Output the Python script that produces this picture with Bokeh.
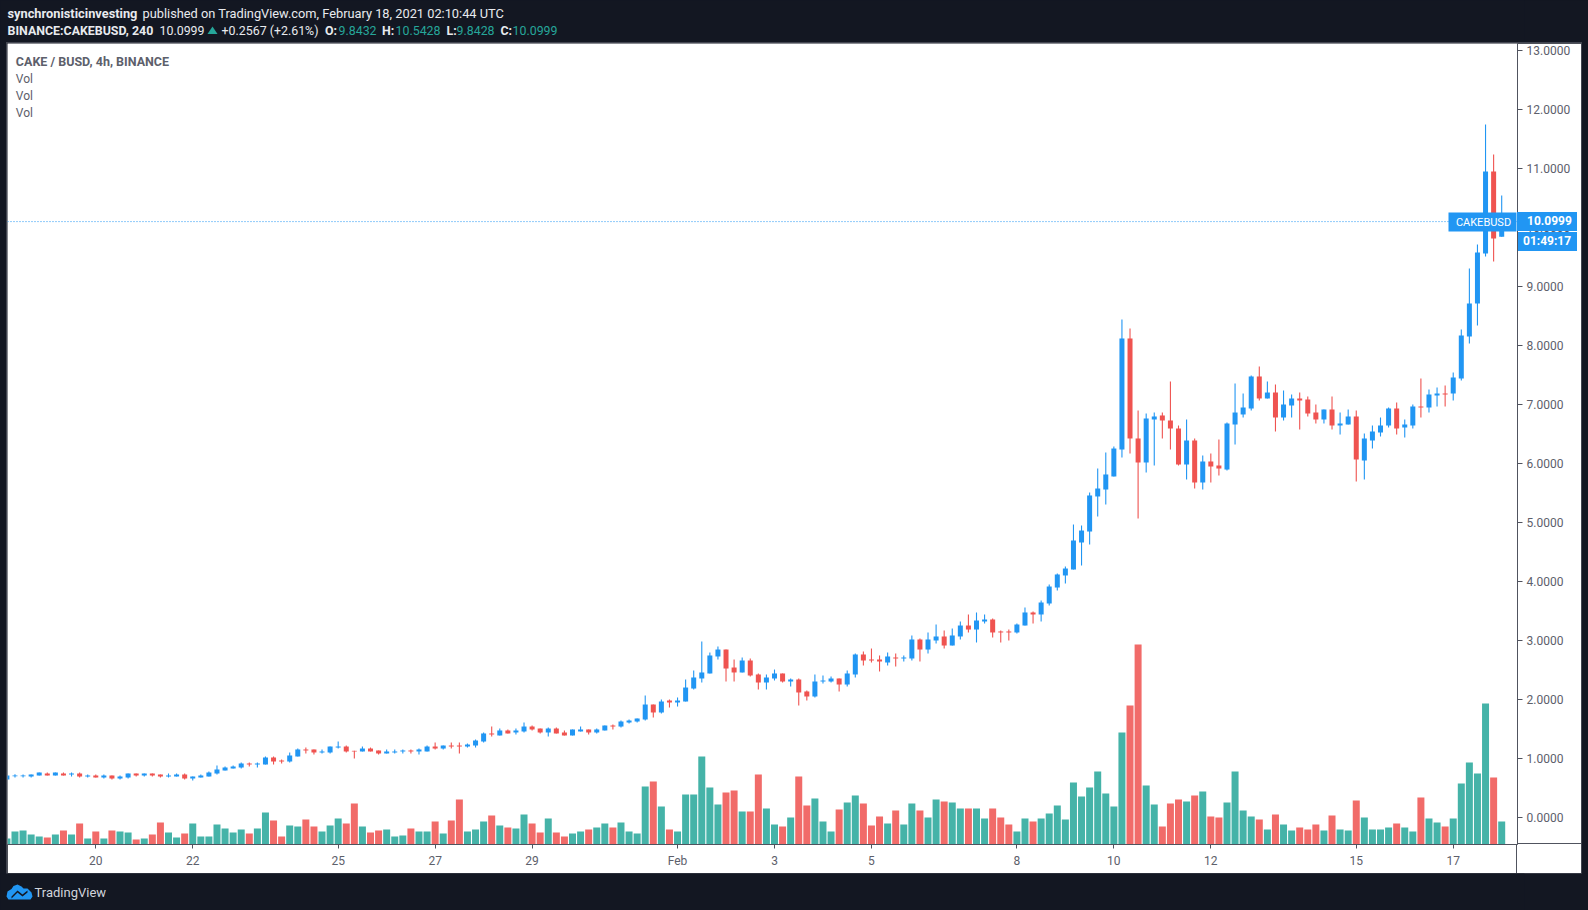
from bokeh.plotting import figure
from bokeh.layouts import column
from bokeh.models import (Range1d, LinearAxis, FixedTicker, NumeralTickFormatter, BoxAnnotation, Label,
                          Span, PolyAnnotation, ColumnDataSource, Div)
from bokeh.embed import file_html
from bokeh.resources import INLINE

FONT = "Roboto"
DARK = "#131722"
GRID = "#50535e"
BLUE = "#2196f3"
RED = "#ef5350"
TEAL = "#26a69a"

opens = [.644,.70,.70,.695,.712,.746,.712,.746,.729,.746,.695,.712,.678,.712,.661,.678,.746,.712,.746,.729,.695,.695,.729,.661,.678,.695,.746,.797,.831,.847,.915,.898,.898,1.017,.966,.949,1.034,1.153,1.153,1.102,1.102,1.186,1.203,
1.130,1.119,1.169,1.136,1.085,1.102,1.119,1.136,1.119,1.119,1.203,1.169,1.220,1.220,1.203,1.220,1.288,1.424,1.390,1.475,1.441,1.458,1.542,1.508,1.441,1.508,1.441,1.390,1.458,1.492,1.441,1.475,1.559,1.542,1.610,1.627,1.661,1.915,1.780,1.983,1.949,1.966,2.186,
2.356,2.441,2.729,2.847,2.542,2.458,2.661,2.424,2.288,2.356,2.441,2.305,2.339,2.136,2.051,2.305,2.305,2.356,2.254,2.424,2.763,2.678,2.678,2.627,2.712,2.695,2.695,3.017,2.847,3.000,3.068,2.915,3.068,3.254,3.186,3.322,3.356,3.153,3.153,3.136,3.254,3.475,3.441,
3.627,3.898,4.102,4.203,4.661,4.847,5.441,5.559,5.780,6.237,8.119,6.424,6.017,6.746,6.814,6.729,6.593,5.983,6.390,5.678,6.034,5.966,5.898,6.661,6.831,6.932,7.475,7.102,7.203,
6.780,6.983,7.102,7.085,6.864,6.746,6.915,6.644,6.661,6.797,6.051,6.390,6.525,6.644,6.932,6.610,6.644,6.966,6.949,7.153,7.186,7.186,7.441,8.153,8.712,9.559,10.949,9.8432]
highs = [.712,.734,.729,.729,.763,.763,.763,.763,.763,.763,.729,.729,.729,.712,.712,.746,.746,.746,.746,.729,.746,.746,.746,.695,.729,.780,.881,.864,.881,.932,.932,.932,1.034,1.034,.983,1.102,1.169,1.186,1.153,1.153,1.203,1.288,1.220,
1.130,1.203,1.186,1.136,1.153,1.153,1.153,1.153,1.169,1.220,1.271,1.220,1.271,1.271,1.254,1.322,1.441,1.542,1.508,1.492,1.508,1.610,1.559,1.508,1.525,1.525,1.475,1.492,1.542,1.492,1.508,1.559,1.576,1.644,1.661,1.678,2.068,1.915,2.000,2.000,2.034,2.339,2.492,
2.983,2.797,2.898,2.847,2.678,2.712,2.695,2.441,2.424,2.508,2.441,2.356,2.356,2.153,2.424,2.407,2.390,2.356,2.492,2.780,2.814,2.864,2.746,2.797,2.780,2.746,3.085,3.034,3.136,3.271,3.169,3.203,3.322,3.441,3.475,3.441,3.373,3.169,3.186,3.288,3.559,3.492,3.678,
3.949,4.136,4.254,4.966,4.949,5.508,5.915,6.186,6.288,8.441,8.288,6.898,6.847,6.864,6.864,7.390,6.644,6.746,6.424,6.136,6.169,6.407,6.695,7.356,7.186,7.492,7.644,7.390,7.339,
7.237,7.169,7.203,7.136,7.000,6.915,7.136,6.864,6.915,6.898,6.508,6.644,6.780,6.949,7.034,6.746,7.000,7.441,7.254,7.288,7.322,7.542,8.271,9.305,9.712,11.746,11.237,10.5428]
lows = [.644,.678,.678,.678,.712,.712,.712,.712,.695,.678,.678,.678,.661,.644,.644,.661,.695,.695,.695,.678,.678,.695,.644,.627,.678,.695,.729,.797,.831,.831,.864,.847,.898,.898,.915,.932,1.034,1.085,1.068,1.085,1.085,1.169,1.102,
1.000,1.119,1.119,1.068,1.085,1.085,1.085,1.085,1.068,1.119,1.153,1.153,1.169,1.085,1.186,1.186,1.271,1.373,1.390,1.424,1.407,1.441,1.475,1.424,1.373,1.424,1.390,1.390,1.458,1.407,1.424,1.475,1.492,1.525,1.593,1.610,1.644,1.695,1.763,1.864,1.881,1.966,2.169,
2.288,2.441,2.678,2.305,2.305,2.458,2.390,2.169,2.169,2.322,2.288,2.220,1.898,1.983,2.034,2.271,2.288,2.136,2.220,2.373,2.576,2.627,2.475,2.576,2.559,2.644,2.661,2.644,2.780,2.949,2.864,2.915,3.017,3.136,2.966,3.288,3.051,2.966,3.000,3.119,3.254,3.288,3.322,
3.593,3.847,3.966,4.203,4.271,4.627,5.102,5.305,5.780,6.102,6.169,5.068,5.847,5.966,6.424,6.237,5.966,5.729,5.576,5.559,5.678,5.797,5.881,6.322,6.780,6.898,7.068,7.102,6.542,
6.729,6.780,6.576,6.797,6.678,6.678,6.576,6.492,6.661,5.695,5.729,6.254,6.458,6.610,6.492,6.441,6.593,6.780,6.864,6.966,6.966,7.068,7.407,8.034,8.339,9.508,9.424,9.8428]
closes = [.712,.712,.712,.729,.763,.712,.763,.712,.746,.695,.712,.678,.712,.661,.695,.746,.712,.746,.712,.695,.712,.729,.661,.695,.712,.763,.814,.847,.864,.915,.898,.915,1.017,.949,.949,1.051,1.153,1.136,1.102,1.119,1.203,1.203,1.119,
1.119,1.169,1.119,1.085,1.119,1.119,1.136,1.119,1.153,1.203,1.169,1.220,1.203,1.203,1.237,1.305,1.424,1.407,1.475,1.424,1.475,1.542,1.492,1.441,1.508,1.424,1.390,1.492,1.492,1.441,1.492,1.559,1.542,1.627,1.644,1.678,1.915,1.780,1.966,1.949,1.983,2.203,2.373,
2.458,2.746,2.847,2.525,2.458,2.661,2.407,2.288,2.373,2.441,2.305,2.339,2.119,2.051,2.305,2.322,2.356,2.254,2.441,2.763,2.661,2.661,2.644,2.729,2.695,2.712,3.017,2.847,3.017,3.068,2.915,3.085,3.254,3.186,3.339,3.356,3.136,3.136,3.136,3.271,3.475,3.441,3.644,
3.915,4.119,4.220,4.695,4.864,5.458,5.576,5.814,6.254,8.119,6.424,6.017,6.763,6.797,6.729,6.593,5.983,6.390,5.678,6.034,5.949,5.915,6.678,6.864,6.949,7.475,7.102,7.203,6.780,
7.000,7.102,7.068,6.847,6.746,6.915,6.644,6.678,6.797,6.068,6.424,6.542,6.644,6.932,6.593,6.661,6.966,6.949,7.169,7.186,7.169,7.458,8.169,8.712,9.576,10.949,9.814,10.0999]
volumes = [6,13,14,10,8,7,10,14,10,21,6,13,6,14,13,12,5,6,10,22,12,7,11,21,8,8,20,16,12,15,11,16,32,24,8,19,18,25,18,13,19,26,21,
41,18,12,14,15,8,9,16,13,13,23,11,24,45,13,15,23,29,19,17,16,30,21,12,26,12,8,11,13,15,17,21,17,22,13,11,58,63,38,15,13,50,50,
88,57,40,52,54,33,33,70,36,20,18,27,68,39,46,23,13,35,42,49,41,19,28,21,34,20,41,34,27,45,43,42,36,36,36,26,36,27,20,13,26,23,26,31,39,
25,62,48,57,73,51,38,112,139,200,59,40,18,41,45,43,49,53,28,27,42,73,34,28,25,15,30,20,14,17,15,20,14,29,15,14,44,27,15,15,17,21,17,13,47,26,22,18,26,61,82,71,141,67,23]

price_ticks = list(range(0, 14))
time_ticks = [11, 23, 41, 53, 65, 83, 95, 107, 125, 137, 149, 167, 179]
time_labels = ["20", "22", "25", "27", "29", "Feb", "3", "5", "8", "10", "12", "15", "17"]
last_price = closes[-1]

# window geometry, in page pixels
W, H = 1588, 910
PL, PR, PT, PB = 7, 1581, 43, 873   # white chart panel
FR, FB = 1517, 844                  # price scale / time scale lines
PPU = 59.0           # pixels per price unit
ZERO = 817.0         # page y of price 0
BARX0, BARDX = 6.4, 8.08

n = len(closes)
idx = list(range(n))
cols_body = [BLUE if c >= o else RED for o, c in zip(opens, closes)]
cols_vol = [TEAL if c >= o else RED for o, c in zip(opens, closes)]
src = ColumnDataSource(dict(x=idx, o=opens, h=highs, l=lows, c=closes, v=volumes, cb=cols_body, cv=cols_vol,
                            top=[max(a, b) for a, b in zip(opens, closes)],
                            bot=[min(a, b) for a, b in zip(opens, closes)]))

p = figure(width=PR - PL, height=PB - PT, output_backend="svg", toolbar_location=None,
           x_range=Range1d((PL - BARX0) / BARDX, (FR - BARX0) / BARDX),
           y_range=Range1d((ZERO - FB) / PPU, (ZERO - PT) / PPU),
           min_border_left=0, min_border_right=PR - FR, min_border_top=0, min_border_bottom=PB - FB,
           x_axis_location=None, y_axis_location=None, margin=(0, W - PR, 0, PL))
p.extra_y_ranges["vol"] = Range1d(0, FB - PT)
p.background_fill_color = "white"
p.border_fill_color = "white"
p.outline_line_color = None
p.xgrid.visible = False
p.ygrid.visible = False
p.styles = {"outline": "1px solid #434651"}

p.vbar(x="x", width=0.866, top="v", bottom=0, y_range_name="vol", source=src,
       fill_color="cv", line_color=None, fill_alpha=0.86)
p.segment(x0="x", x1="x", y0="l", y1="h", source=src, line_color="cb", line_width=1.1)
p.vbar(x="x", width=0.62, top="top", bottom="bot", source=src, fill_color="cb", line_color="cb", line_width=0)

p.add_layout(Span(location=last_price, dimension="width", line_color=BLUE, line_width=1, line_dash="1 2"))

yax = LinearAxis(ticker=FixedTicker(ticks=price_ticks), formatter=NumeralTickFormatter(format="0.0000"))
yax.axis_line_color = GRID
yax.major_tick_line_color = GRID
yax.major_tick_out = 5
yax.major_tick_in = 0
yax.minor_tick_line_color = None
yax.major_label_standoff = 4
yax.major_label_text_font = FONT
yax.major_label_text_font_size = "12px"
yax.major_label_text_color = "#5d606b"
p.add_layout(yax, "right")

xax = LinearAxis(ticker=FixedTicker(ticks=time_ticks),
                 major_label_overrides={t: s for t, s in zip(time_ticks, time_labels)})
xax.axis_line_color = GRID
xax.major_tick_line_color = GRID
xax.major_tick_out = 4
xax.major_tick_in = 0
xax.minor_tick_line_color = None
xax.major_label_standoff = 5
xax.major_label_text_font = FONT
xax.major_label_text_font_size = "12px"
xax.major_label_text_color = "#5d606b"
p.add_layout(xax, "below")


def text(fig, x, y, s, color, bold=False, size="12px", align="left"):
    fig.add_layout(Label(x=x, y=y, x_units="canvas", y_units="canvas", text=s, text_color=color,
                         text_font=FONT, text_font_size=size, text_baseline="middle", text_align=align,
                         text_font_style="bold" if bold else "normal"))


def strip(w, h, bg):
    """A figure without axes whose frame fills it: carries texts on a flat colour."""
    f = figure(width=w, height=h, output_backend="svg", toolbar_location=None,
               x_range=Range1d(0, w), y_range=Range1d(0, h),
               min_border_left=0, min_border_right=0, min_border_top=0, min_border_bottom=0,
               x_axis_location=None, y_axis_location=None)
    f.background_fill_color = bg
    f.border_fill_color = bg
    f.outline_line_color = None
    f.xgrid.visible = False
    f.ygrid.visible = False
    return f


def at(left, top):
    return {"position": "absolute", "left": f"{left}px", "top": f"{top}px", "z-index": "5"}


def tag(left, top, w, h, s, indent):
    return Div(text=s, width=w, height=h, margin=0,
               styles={**at(left, top), "background-color": BLUE, "color": "white", "font-family": FONT,
                       "font-size": "12px", "font-weight": "bold", "line-height": f"{h}px",
                       "text-indent": f"{indent}px", "white-space": "nowrap"})


# current price tag over the chart
p.add_layout(BoxAnnotation(left=1448 - PL, right=1516 - PL, top=212 - PT, bottom=231 - PT,
                           left_units="canvas", right_units="canvas", top_units="canvas", bottom_units="canvas",
                           fill_color=BLUE, fill_alpha=1, line_color=None))
text(p, 1483 - PL, 221.5 - PT, "CAKEBUSD", "white", size="11px", align="center")

# pane legend
text(p, 15.3 - PL, 61 - PT, "CAKE / BUSD, 4h, BINANCE", "#5d606b", bold=True, size="12.5px")
for ly in (78, 95, 112):
    text(p, 15.3 - PL, ly - PT, "Vol", "#5d606b")

# header
WHITE = "#e8eaee"
NUM = "#26a69a"
head = strip(W, PT, DARK)
text(head, 7, 13, "synchronisticinvesting", WHITE, bold=True, size="12.8px")
text(head, 142, 13, "published on TradingView.com, February 18, 2021 02:10:44 UTC", WHITE, size="12.8px")
text(head, 7, 30, "BINANCE:CAKEBUSD, 240", WHITE, bold=True, size="12.4px")
text(head, 159, 30, "10.0999", WHITE, size="12.4px")
tri = [(207, 33.5), (217, 33.5), (212, 26)]
head.add_layout(PolyAnnotation(xs=[a for a, _ in tri], ys=[b for _, b in tri],
                               xs_units="canvas", ys_units="canvas", fill_color=NUM, fill_alpha=1, line_color=None))
text(head, 221, 30, "+0.2567 (+2.61%)", WHITE, size="12.4px")
for lx, lab, vx, val in [(324.5, "O:", 338, "9.8432"), (381.5, "H:", 395, "10.5428"),
                         (446, "L:", 456, "9.8428"), (500, "C:", 512, "10.0999")]:
    text(head, lx, 30, lab, WHITE, bold=True, size="12.4px")
    text(head, vx, 30, val, NUM, size="12.4px")

# footer with logo
foot = strip(W, H - PB, DARK)
cloud = [(6, 23), (7, 18), (11, 15.5), (13, 12.5), (17, 11), (21, 13), (23, 15), (27, 15), (31, 19), (32, 23), (30, 26), (8, 26)]
foot.add_layout(PolyAnnotation(xs=[a for a, _ in cloud], ys=[b for _, b in cloud],
                               xs_units="canvas", ys_units="canvas", fill_color=BLUE, fill_alpha=1, line_color=None))
zig = [(11, 23), (17, 17), (22, 21), (27, 17), (27, 19), (22, 23), (17, 19), (11, 25)]
foot.add_layout(PolyAnnotation(xs=[a for a, _ in zig], ys=[b for _, b in zig],
                               xs_units="canvas", ys_units="canvas", fill_color=DARK, fill_alpha=1, line_color=None))
text(foot, 34, 19, "TradingView", "#d1d4dc", size="13px")

# price and countdown tags on the price scale
tag_price = tag(1517, 212, 60, 19, "10.0999", 10)
tag_time = tag(1518, 232, 59, 19, "01:49:17", 5)

# scale lines continuing beyond the chart's frame
line_h = Div(width=PR - FR, height=1, margin=0, styles={**at(FR, FB - 1), "background-color": GRID})
line_v = Div(width=1, height=PB - FB, margin=0, styles={**at(FR - 1, FB), "background-color": GRID})

root = column(head, p, foot, tag_price, tag_time, line_h, line_v, spacing=0, width=W, height=H,
              styles={"background-color": DARK})

open("out.html", "w").write(file_html(root, INLINE))
